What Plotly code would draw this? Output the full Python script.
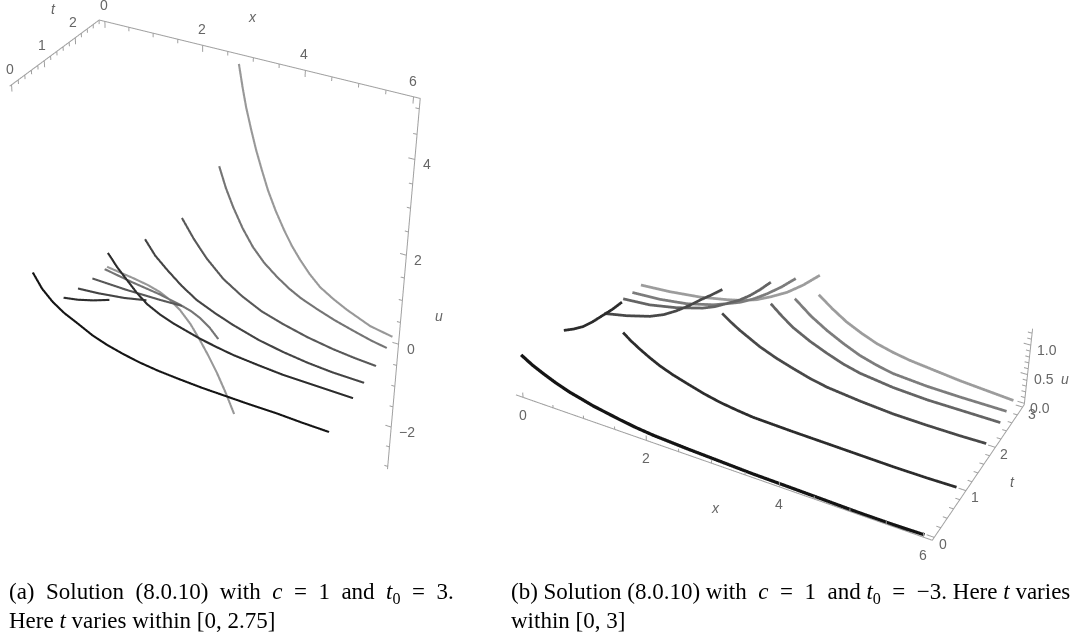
import plotly.graph_objects as go

# ---------- data ----------
# panel (a): t0 = 3
A_COLORS = {0: '#141414', 1: '#2c2c2c', 1.5: '#444444', 2: '#585858', 2.5: '#747474', 2.75: '#989898'}
A_RIGHT = {
    0: ([0.08, 0.26, 0.48, 0.72, 0.98, 1.30, 1.60, 1.94, 2.28, 2.65, 3.04, 3.55, 4.05, 4.50, 5.02, 5.50, 6.02],
        [1.38, 1.08, 0.85, 0.68, 0.55, 0.38, 0.27, 0.18, 0.11, 0.06, 0.03, 0.00, -0.01, -0.02, -0.02, -0.04, -0.05]),
    1: ([1.05, 1.24, 1.44, 1.65, 1.86, 2.12, 2.40, 2.68, 2.96, 3.30, 3.64, 4.15, 4.65, 5.30, 6.02],
        [1.52, 1.26, 1.04, 0.81, 0.63, 0.49, 0.38, 0.30, 0.22, 0.15, 0.09, 0.04, 0.00, -0.01, -0.02]),
    1.5: ([1.54, 1.75, 2.00, 2.30, 2.62, 3.00, 3.37, 3.90, 4.40, 4.90, 5.40, 6.01],
          [1.68, 1.38, 1.14, 0.88, 0.66, 0.49, 0.35, 0.19, 0.09, 0.02, -0.02, -0.03]),
    2: ([2.03, 2.28, 2.55, 2.90, 3.29, 3.70, 4.14, 4.65, 5.16, 5.60, 6.02],
        [2.01, 1.62, 1.27, 0.92, 0.66, 0.45, 0.31, 0.18, 0.09, 0.04, 0.01]),
    2.5: ([2.52, 2.66, 2.82, 3.02, 3.24, 3.48, 3.75, 4.00, 4.25, 4.59, 4.95, 5.33, 5.70, 6.01],
          [3.00, 2.58, 2.20, 1.80, 1.45, 1.17, 0.94, 0.76, 0.62, 0.48, 0.35, 0.24, 0.14, 0.08]),
    2.75: ([2.75, 2.83, 2.91, 3.02, 3.13, 3.26, 3.39, 3.56, 3.74, 3.91, 4.09, 4.30, 4.52, 4.80, 5.08, 5.56, 6.01],
           [5.04, 4.60, 4.21, 3.78, 3.38, 2.98, 2.60, 2.20, 1.84, 1.54, 1.28, 1.02, 0.80, 0.62, 0.47, 0.26, 0.17]),
}
A_LEFT = {
    1: ([0.04, 0.36, 0.70, 1.05], [0.165, 0.225, 0.325, 0.455]),
    1.5: ([0.04, 0.50, 1.06, 1.55], [0.065, 0.105, 0.185, 0.295]),
    2: ([0.05, 0.80, 1.54, 2.03], [-0.005, -0.025, -0.015, 0.005]),
    2.5: ([0.02, 0.62, 1.26, 1.71, 1.95, 2.15, 2.35, 2.55], [-0.10, -0.21, -0.30, -0.40, -0.47, -0.57, -0.72, -0.94]),
    2.75: ([-0.08, 0.51, 0.85, 1.12, 1.35, 1.57, 1.80, 2.01, 2.20, 2.40, 2.60, 2.80],
           [-0.23, -0.31, -0.37, -0.45, -0.57, -0.74, -1.00, -1.32, -1.64, -2.01, -2.44, -2.92]),
}
# panel (b): t0 = -3
B_COLORS = {0: '#141414', 1: '#2c2c2c', 2: '#484848', 2.5: '#646464', 2.75: '#7c7c7c', 3: '#9c9c9c'}
B_RIGHT = {
    0: ([-0.01, 0.16, 0.34, 0.54, 0.76, 0.95, 1.13, 1.34, 1.55, 1.80, 2.07, 2.59, 3.09, 3.58, 4.16, 4.65, 5.11, 5.57, 5.99],
        [0.67, 0.56, 0.47, 0.38, 0.30, 0.25, 0.20, 0.16, 0.12, 0.08, 0.05, 0.02, 0.00, -0.02, -0.03, -0.04, -0.05, -0.05, -0.04]),
    1: ([0.98, 1.11, 1.25, 1.40, 1.56, 1.77, 1.99, 2.25, 2.51, 2.77, 3.02, 3.63, 4.14, 4.62, 5.10, 5.58, 5.99],
        [0.76, 0.655, 0.56, 0.47, 0.385, 0.30, 0.23, 0.15, 0.09, 0.05, 0.02, 0.00, -0.01, -0.02, -0.03, -0.03, -0.02]),
    2: ([1.97, 2.10, 2.25, 2.41, 2.57, 2.83, 3.10, 3.36, 3.63, 4.14, 4.64, 5.14, 5.62, 5.99],
        [0.81, 0.71, 0.61, 0.52, 0.43, 0.32, 0.23, 0.15, 0.09, 0.03, -0.01, -0.02, -0.02, -0.01]),
    2.5: ([2.47, 2.65, 2.83, 3.10, 3.37, 3.63, 3.89, 4.40, 4.92, 5.40, 5.99],
          [0.84, 0.68, 0.54, 0.39, 0.27, 0.17, 0.10, 0.03, 0.00, 0.00, 0.00]),
    2.75: ([2.72, 2.98, 3.24, 3.50, 3.76, 4.02, 4.28, 4.80, 5.30, 5.98],
           [0.86, 0.64, 0.47, 0.33, 0.21, 0.13, 0.07, 0.03, 0.02, 0.02]),
    3: ([2.97, 3.20, 3.42, 3.66, 3.90, 4.16, 4.42, 4.93, 5.19, 5.45, 5.98],
        [0.86, 0.68, 0.53, 0.41, 0.31, 0.24, 0.19, 0.13, 0.10, 0.08, 0.04]),
}
B_LEFT = {
    1: ([-0.03, 0.14, 0.31, 0.48, 0.66, 0.83, 0.99], [0.46, 0.54, 0.64, 0.78, 0.95, 1.11, 1.28]),
    2: ([-0.04, 0.36, 0.76, 1.00, 1.22, 1.42, 1.61, 1.80, 1.98], [0.15, 0.24, 0.36, 0.47, 0.61, 0.76, 0.92, 1.07, 1.22]),
    2.5: ([-0.04, 0.43, 0.90, 1.35, 1.55, 1.75, 1.95, 2.13, 2.30, 2.47], [0.12, 0.16, 0.26, 0.40, 0.49, 0.61, 0.73, 0.87, 1.03, 1.21]),
    2.75: ([-0.04, 0.45, 0.92, 1.38, 1.60, 1.83, 2.05, 2.27, 2.50, 2.73], [0.09, 0.12, 0.19, 0.32, 0.41, 0.51, 0.64, 0.80, 0.99, 1.21]),
    3: ([-0.05, 0.47, 1.00, 1.46, 1.72, 1.96, 2.20, 2.46, 2.72, 2.98], [0.08, 0.12, 0.19, 0.29, 0.36, 0.45, 0.58, 0.74, 0.95, 1.20]),
}
# axes
X_MINOR = [0, 0.5, 1, 1.5, 2, 2.5, 3, 3.5, 4, 4.5, 5, 5.5, 6]
X_MAJOR = [0, 2, 4, 6]
A_RANGE = dict(x=[-0.12, 6.12], t=[-0.055, 2.805], u=[-3.07, 5.2])
B_RANGE = dict(x=[-0.12, 6.12], t=[-0.06, 3.06], u=[-0.025, 1.275])
A_T_MINOR = [0, 0.2, 0.4, 0.6, 0.8, 1, 1.2, 1.4, 1.6, 1.8, 2, 2.2, 2.4, 2.6, 2.8]
A_T_MAJOR = [0, 1, 2]
A_U_MINOR = [-3, -2.5, -2, -1.5, -1, -0.5, 0, 0.5, 1, 1.5, 2, 2.5, 3, 3.5, 4, 4.5, 5]
A_U_MAJOR = [-2, 0, 2, 4]
B_T_MINOR = [0, 0.2, 0.4, 0.6, 0.8, 1, 1.2, 1.4, 1.6, 1.8, 2, 2.2, 2.4, 2.6, 2.8, 3]
B_T_MAJOR = [0, 1, 2, 3]
B_U_MINOR = [0, 0.1, 0.2, 0.3, 0.4, 0.5, 0.6, 0.7, 0.8, 0.9, 1, 1.1, 1.2]
B_U_MAJOR = [0, 0.5, 1]

# ---------- layout constants ----------
PAGE_W, FIG_H, TOP = 1070, 1400, -420     # figure is taller than the window so the 45 deg lens gives a long focal length
AX = '#a0a0a0'; LAB = '#666666'; LSIZE = 14; FAM = 'Liberation Sans'
PAD = 1.25   # hidden axis ranges are wider than the drawn box so nothing is clipped
A_WIDTH, B_WIDTH = 4.2, 5.5
def py(p): return 1 - (p - TOP) / FIG_H

fig = go.Figure()
def line3d(scene, xs, ys, zs, color=AX, width=2):
    fig.add_trace(go.Scatter3d(x=xs, y=ys, z=zs, mode='lines', line=dict(color=color, width=width), hoverinfo='skip', showlegend=False, scene=scene))

def ticks(scene, axis, values, fixed, direction, length):
    xs, ys, zs = [], [], []
    for v in values:
        p = dict(fixed); p[axis] = v
        q = dict(p); q[direction] += length
        xs += [p['x'], q['x'], None]; ys += [p['t'], q['t'], None]; zs += [p['u'], q['u'], None]
    line3d(scene, xs, ys, zs)

def ann(axis, values, fixed, dx, dy, fmt=str, anchor='center'):
    out = []
    for v in values:
        p = dict(fixed); p[axis] = v
        out.append(dict(x=p['x'], y=p['t'], z=p['u'], text=fmt(v), showarrow=False, xanchor=anchor, yanchor='middle',
                        xshift=dx, yshift=-dy, font=dict(family=FAM, size=LSIZE, color=LAB)))
    return out
def title(txt, x, t, u, dx, dy):
    return dict(x=x, y=t, z=u, text='<i>%s</i>' % txt, showarrow=False, xshift=dx, yshift=-dy, font=dict(family=FAM, size=LSIZE, color=LAB))

neg = lambda v: str(v).replace('-', '\u2212')

# panel a
ra = A_RANGE
xl, xh, tl, th, ul, uh = ra['x'][0], ra['x'][1], ra['t'][0], ra['t'][1], ra['u'][0], ra['u'][1]
line3d('scene', [xl, xl, xh, xh], [tl, th, th, th], [uh, uh, uh, ul])
ticks('scene', 'x', [v for v in X_MINOR if v not in X_MAJOR], dict(x=0, t=th, u=uh), 'u', -0.08)
ticks('scene', 'x', X_MAJOR, dict(x=0, t=th, u=uh), 'u', -0.13)
ticks('scene', 't', [v for v in A_T_MINOR if v not in A_T_MAJOR], dict(x=xl, t=0, u=uh), 'u', -0.08)
ticks('scene', 't', A_T_MAJOR, dict(x=xl, t=0, u=uh), 'u', -0.13)
ticks('scene', 'u', [v for v in A_U_MINOR if v not in A_U_MAJOR], dict(x=xh, t=th, u=0), 'x', -0.07)
ticks('scene', 'u', A_U_MAJOR, dict(x=xh, t=th, u=0), 'x', -0.12)
for group in (A_RIGHT, A_LEFT):
    for t, (xs, us) in group.items():
        line3d('scene', xs, [t]*len(xs), us, A_COLORS[t], A_WIDTH)
a_ann = (ann('x', X_MAJOR, dict(x=0, t=th, u=uh), -1, -16) + ann('t', A_T_MAJOR, dict(x=xl, t=0, u=uh), -2, -16)
         + ann('u', A_U_MAJOR, dict(x=xh, t=th, u=0), 6, 5, neg, 'left')
         + [title('x', 3, th, uh, -1, -41), title('t', xl, 1.4, uh, -3, -42), title('u', xh, th, 0.6, 38, -2)])

# panel b
rb = B_RANGE
xl2, xh2, tl2, th2, ul2, uh2 = rb['x'][0], rb['x'][1], rb['t'][0], rb['t'][1], rb['u'][0], rb['u'][1]
line3d('scene2', [xl2, xh2, xh2, xh2], [tl2, tl2, th2, th2], [ul2, ul2, ul2, uh2])
ticks('scene2', 'x', [v for v in X_MINOR if v not in X_MAJOR], dict(x=0, t=tl2, u=ul2), 'u', 0.05)
ticks('scene2', 'x', X_MAJOR, dict(x=0, t=tl2, u=ul2), 'u', 0.085)
ticks('scene2', 't', [v for v in B_T_MINOR if v not in B_T_MAJOR], dict(x=xh2, t=0, u=ul2), 'x', -0.06)
ticks('scene2', 't', B_T_MAJOR, dict(x=xh2, t=0, u=ul2), 'x', -0.1)
ticks('scene2', 'u', [v for v in B_U_MINOR if v not in B_U_MAJOR], dict(x=xh2, t=th2, u=0), 'x', -0.06)
ticks('scene2', 'u', B_U_MAJOR, dict(x=xh2, t=th2, u=0), 'x', -0.1)
for group in (B_RIGHT, B_LEFT):
    for t, (xs, us) in group.items():
        line3d('scene2', xs, [t]*len(xs), us, B_COLORS[t], B_WIDTH + (1 if t == 0 else 0))
b_ann = (ann('x', X_MAJOR, dict(x=0, t=tl2, u=ul2), 0, 18) + ann('t', B_T_MAJOR, dict(x=xh2, t=0, u=ul2), 9, 7)
         + ann('u', B_U_MAJOR, dict(x=xh2, t=th2, u=0), 16, 5, lambda v: '%.1f' % v)
         + [title('x', 3, tl2, ul2, 4, 45), title('t', xh2, 1.5, ul2, 32, 14), title('u', xh2, th2, 0.5, 37, 5)])

def wide(r):
    m = (r[0] + r[1]) / 2; h = (r[1] - r[0]) / 2 * PAD
    return [m - h, m + h]

def scene_cfg(px0, px1, pt0, pt1, r, asp, eye, ctr, up, annotations):
    return dict(domain=dict(x=[px0/PAGE_W, px1/PAGE_W], y=[py(pt1), py(pt0)]),
                xaxis=dict(visible=False, range=wide(r['x'])), yaxis=dict(visible=False, range=wide(r['t'])), zaxis=dict(visible=False, range=wide(r['u'])),
                aspectmode='manual', aspectratio=dict(x=asp[0]*PAD, y=asp[1]*PAD, z=asp[2]*PAD),
                camera=dict(eye=dict(x=eye[0], y=eye[1], z=eye[2]), center=dict(x=ctr[0], y=ctr[1], z=ctr[2]), up=dict(x=up[0], y=up[1], z=up[2])),
                annotations=annotations, dragmode=False)

CAP = dict(family='Liberation Serif', size=23, color='black')
NB = '\u00a0'
def cap(px, p, txt):
    return dict(x=px/PAGE_W, y=py(p), xref='paper', yref='paper', xanchor='left', yanchor='middle', text=txt, showarrow=False, font=CAP, align='left')

fig.update_layout(
    width=PAGE_W, height=FIG_H, margin=dict(l=0, r=0, t=0, b=0), showlegend=False, paper_bgcolor='white',
    scene=scene_cfg(0, 450, 280-699.2, 280+699.2, ra, [1, .4693, 1.2999], [1.8531, -3.5866, 2.7801], [.0243, .0335, .0279], [-.2676, .4938, .8274], a_ann),
    scene2=scene_cfg(505, 1065, 285-648.25, 285+648.25, rb, [1, .5045, .2013], [1.3265, -2.4439, 1.9558], [-.0133, .0939, .1412], [-.2569, .4687, .8452], b_ann),
    annotations=[cap(7, 593, f'(a){NB} Solution{NB} (8.0.10){NB} with{NB} <i>c</i>{NB} ={NB} 1{NB} and{NB} <i>t</i><sub>0</sub>{NB} ={NB} 3.'),
                 cap(7, 620, 'Here <i>t</i> varies within [0, 2.75]'),
                 cap(509, 593, f'(b) Solution (8.0.10) with{NB} <i>c</i>{NB} ={NB} 1{NB} and <i>t</i><sub>0</sub>{NB} ={NB} \u22123. Here <i>t</i> varies'),
                 cap(509, 620, 'within [0, 3]')])
fig.write_html('out.html', config={'displayModeBar': False},
    post_script="document.documentElement.style.overflow='hidden';document.body.style.margin='0';document.body.style.overflow='hidden';document.getElementById('{plot_id}').style.marginTop='%dpx';" % TOP)
